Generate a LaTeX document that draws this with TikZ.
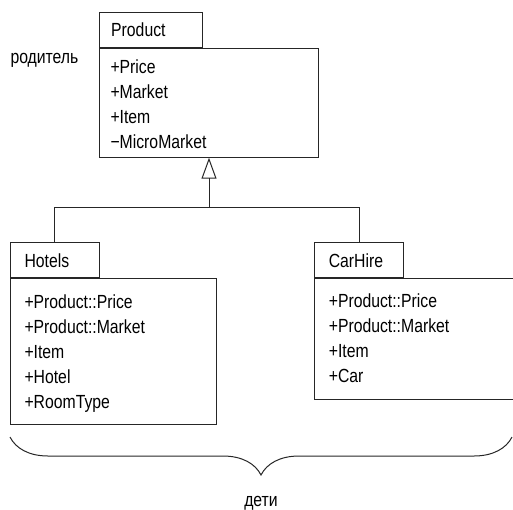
\documentclass[tikz,border=0pt]{standalone}
\usepackage{fontspec}
\setmainfont{Liberation Sans}[FakeStretch=0.83]
\usepackage{tikz}
\usetikzlibrary{arrows.meta,decorations.pathreplacing}

\begin{document}
\begin{tikzpicture}[x=1pt, y=-1pt, line width=1pt, draw=black!85,
    font=\fontsize{19}{25}\selectfont,
    classtab/.style={draw, rectangle, anchor=north west, minimum height=35pt, inner xsep=12pt, align=left},
    classbody/.style={draw, rectangle, anchor=north west},
    attrlist/.style={anchor=north west, inner sep=0pt, align=left},
    inherit/.style={-{Triangle[open, length=21pt, width=15pt]}}]
    \useasboundingbox (0,0) rectangle (513,509);

    % Parent class
    \node[classtab, text width=79.3pt] (product) at (98.7,11.7) {Product};
    \node[classbody, minimum width=219.6pt, minimum height=109pt] (productbody) at (product.south west) {};
    \node[attrlist] (productattrs) at ([shift={(11.3,11.4)}]productbody.north west) {+Price\\+Market\\+Item\\−MicroMarket};
    \node[anchor=base west, inner sep=0pt] (parent) at (10,63) {родитель};

    % Child classes
    \node[classtab, inner xsep=14pt, text width=60.7pt] (hotels) at (10,242.3) {Hotels};
    \node[classbody, minimum width=205.7pt, minimum height=145.4pt] (hotelsbody) at (hotels.south west) {};
    \node[attrlist] (hotelsattrs) at ([shift={(14,16.4)}]hotelsbody.north west) {+Product::Price\\+Product::Market\\+Item\\+Hotel\\+RoomType};

    \node[classtab, inner xsep=14pt, text width=61pt] (carhire) at (314.3,242.3) {CarHire};
    \node[classbody, minimum width=198.4pt, minimum height=121pt] (carhirebody) at (carhire.south west) {};
    \node[attrlist] (carhireattrs) at ([shift={(14,15)}]carhirebody.north west) {+Product::Price\\+Product::Market\\+Item\\+Car};

    % Inheritance
    \coordinate (fork) at ([yshift=-50pt]productbody.south);
    \draw (hotels.north) |- (fork) -| (carhire.north);
    \draw[inherit] (fork) -- (productbody.south);

    % Brace under children
    \coordinate (braceleft) at (10,437);
    \coordinate (braceright) at (512,437);
    \draw[decorate, decoration={brace, mirror, amplitude=38pt}] (braceleft) -- (braceright);
    \node[anchor=base] (children) at (261,506) {дети};
\end{tikzpicture}
\end{document}
